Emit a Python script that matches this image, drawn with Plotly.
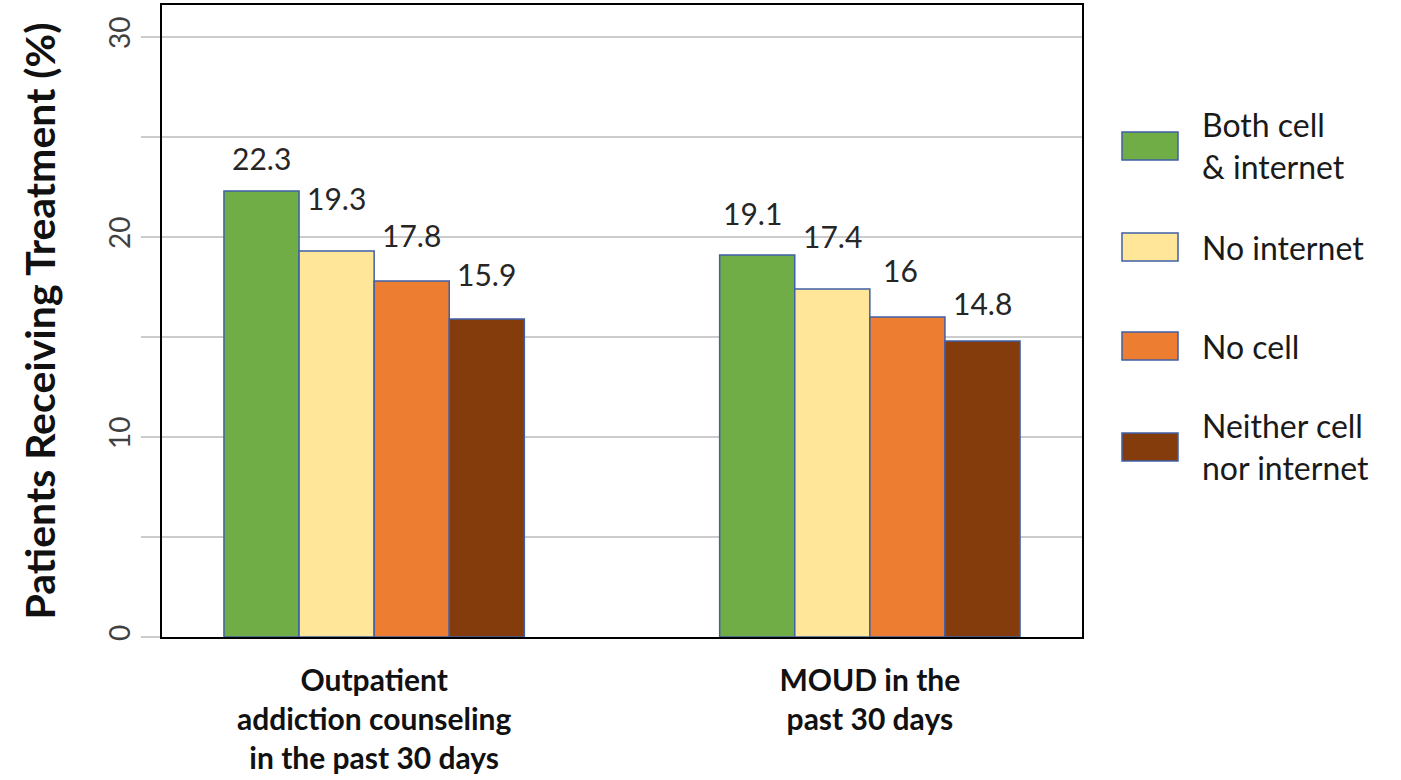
import plotly.graph_objects as go

# Treatment categories (x axis) and device-access groups (series)
categories = ["Outpatient<br>addiction counseling<br>in the past 30 days",
              "MOUD in the<br>past 30 days"]
groups = ["Both cell<br>& internet", "No internet", "No cell", "Neither cell<br>nor internet"]
values = {
    "Both cell<br>& internet": [22.3, 19.1],
    "No internet": [19.3, 17.4],
    "No cell": [17.8, 16.0],
    "Neither cell<br>nor internet": [15.9, 14.8],
}
y_tick_vals = [0, 5, 10, 15, 20, 25, 30]
y_tick_text = ["0", "", "10", "", "20", "", "30"]

# Styling
colors = ["#70AD47", "#FFE699", "#ED7D31", "#843C0C"]
outline = "#3F5FA6"
font_family = "Lato"
bar_gap = 0.394
# label placement above each bar (pixels), per series and category
label_lift = [[33, 42], [53, 53], [46, 47], [45, 38]]
label_nudge = [[0, -5], [0, 0], [0, -7], [0, 0]]

fig = go.Figure()
for i, g in enumerate(groups):
    fig.add_trace(go.Bar(
        x=categories, y=values[g], name=g,
        marker=dict(color=colors[i], line=dict(color=outline, width=1.5)),
        showlegend=False,
    ))

# value labels above the bars
n = len(groups)
w = (1 - bar_gap) / n
for i, g in enumerate(groups):
    for c, v in enumerate(values[g]):
        fig.add_annotation(
            x=c + (i - (n - 1) / 2) * w, y=v, xref="x", yref="y",
            text=f"{v:g}", showarrow=False,
            yshift=label_lift[i][c], xshift=label_nudge[i][c],
            font=dict(family=font_family, size=30, color="#262626"),
        )

# legend drawn as swatches beside the plot (pixel layout converted to paper units)
W, H = 1401, 780
ml, mr, mt, mb = 162, 319, 5, 143
pw, ph = W - ml - mr, H - mt - mb
def px(x):
    return (x - ml) / pw
def py(y):
    return (H - mb - y) / ph

legend_centers = [146, 247, 346, 447]
for i, g in enumerate(groups):
    cy = legend_centers[i]
    fig.add_shape(type="rect", xref="paper", yref="paper",
                  x0=px(1122), x1=px(1178), y0=py(cy + 14), y1=py(cy - 14),
                  fillcolor=colors[i], line=dict(color=outline, width=1.5))
    fig.add_annotation(xref="paper", yref="paper", x=px(1200), y=py(cy),
                       xanchor="left", yanchor="middle", align="left",
                       text=g, showarrow=False,
                       font=dict(family=font_family, size=32, color="#1a1a1a"))

fig.update_layout(
    width=W, height=H,
    margin=dict(l=ml, r=mr, t=mt, b=mb, autoexpand=False),
    paper_bgcolor="white", plot_bgcolor="white",
    barmode="group", bargap=bar_gap, bargroupgap=0,
    font=dict(family=font_family),
)
fig.update_xaxes(
    type="category", range=[-0.428, 1.428],
    showline=True, linecolor="black", linewidth=1.5, mirror=True,
    ticks="outside", ticklen=16, tickcolor="rgba(0,0,0,0)",
    tickfont=dict(family=font_family, size=30, color="#111111", weight="bold"),
)
fig.update_yaxes(
    range=[0, 31.6],
    tickvals=y_tick_vals, ticktext=y_tick_text, tickangle=-90,
    ticks="outside", ticklen=19, tickcolor="#CCCCCC", tickwidth=1.5,
    tickfont=dict(family=font_family, size=28, color="#404040"),
    showgrid=True, gridcolor="#CCCCCC", gridwidth=1.5,
    showline=True, linecolor="black", linewidth=1.5, mirror=True,
    zeroline=False,
    title=dict(text="Patients Receiving Treatment (%)", standoff=34,
               font=dict(family=font_family, size=41, color="#111111", weight="bold")),
)

fig.write_html("out.html")
